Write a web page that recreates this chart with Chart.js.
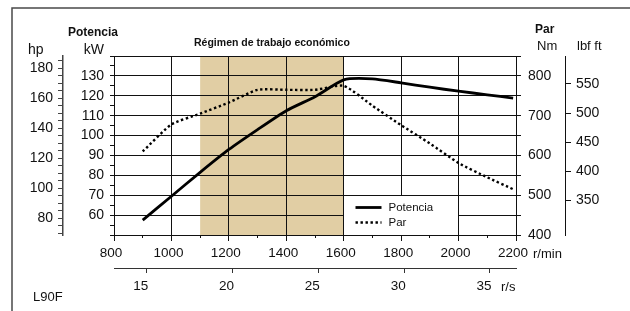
<!DOCTYPE html>
<html>
<head>
<meta charset="utf-8">
<title>L90F</title>
<script src="https://cdn.jsdelivr.net/npm/chart.js@4/dist/chart.umd.min.js"></script>
<style>
  html, body { margin: 0; padding: 0; background: #fff; }
</style>
</head>
<body>
<canvas id="myChart" width="630" height="311"></canvas>
<script>
// engine speed (r/min) and the two curves
const rpm = [900, 1000, 1100, 1200, 1300, 1400, 1500, 1600, 1700, 1800, 1900, 2000, 2100, 2190];
const potenciaKw = [57.5, 69.5, 81.5, 93, 103, 112.5, 119.5, 128, 128.5, 126.5, 124.3, 122.3, 120.5, 118.8];
const parNm = [610, 678, 705, 733, 765, 765, 765, 775, 725, 676, 630, 581, 545, 515];

const economico = [1100, 1600];

const rpmTicks = [800, 1000, 1200, 1400, 1600, 1800, 2000, 2200];
const kwTicks = [60, 70, 80, 90, 100, 110, 120, 130];
const hpTicks = [80, 100, 120, 140, 160, 180];
const nmTicks = [400, 500, 600, 700, 800];
const lbfTicks = [350, 400, 450, 500, 550];
const rsTicks = [15, 20, 25, 30, 35];

const family = '"Liberation Sans", Arial, Helvetica, sans-serif';
const ink = '#111';
Chart.defaults.font.family = family;
Chart.defaults.color = ink;

const align = (p) => Math.round(p - 0.5) + 0.5;

const extras = {
  id: 'extras',
  beforeDraw(chart) {
    // shaded economic range sits under the grid
    const {ctx, chartArea} = chart;
    const xs = chart.scales.x;
    const x1 = xs.getPixelForValue(economico[0]);
    const x2 = xs.getPixelForValue(economico[1]);
    ctx.save();
    ctx.fillStyle = 'rgb(225, 206, 164)';
    ctx.fillRect(x1, chartArea.top, x2 - x1, chartArea.bottom - chartArea.top);
    ctx.restore();
  },
  beforeDatasetsDraw(chart) {
    // legend box in the lower right, it hides the grid behind it
    const {ctx} = chart;
    const xs = chart.scales.x, ys = chart.scales.y;
    const l = align(xs.getPixelForValue(1600));
    const r = align(xs.getPixelForValue(2000));
    const t = align(ys.getPixelForValue(70));
    const b = align(ys.getPixelForValue(50));
    ctx.save();
    ctx.fillStyle = '#fff';
    ctx.fillRect(l, t, r - l, b - t);
    ctx.strokeStyle = ink;
    ctx.lineWidth = 1;
    ctx.strokeRect(l, t, r - l, b - t);
    chart.data.datasets.forEach((ds, i) => {
      const y = t + 12 + i * 15;
      ctx.beginPath();
      ctx.setLineDash(ds.borderDash || []);
      ctx.lineWidth = ds.borderWidth;
      ctx.strokeStyle = ds.borderColor;
      ctx.moveTo(l + 12, y);
      ctx.lineTo(l + 38, y);
      ctx.stroke();
      ctx.setLineDash([]);
      ctx.fillStyle = ink;
      ctx.font = '11.5px ' + family;
      ctx.textBaseline = 'middle';
      ctx.fillText(ds.label, l + 45, y);
    });
    ctx.restore();
  },
  afterDraw(chart) {
    const {ctx, chartArea} = chart;
    const xs = chart.scales.x;
    ctx.save();
    // short ticks between the labelled speeds
    ctx.strokeStyle = ink;
    ctx.lineWidth = 1;
    ctx.beginPath();
    for (let v = 900; v < 2200; v += 200) {
      const x = align(xs.getPixelForValue(v));
      ctx.moveTo(x, chartArea.bottom);
      ctx.lineTo(x, chartArea.bottom + 3);
    }
    ctx.stroke();

    const put = (txt, x, y, font, alignTo) => {
      ctx.font = font + ' ' + family;
      ctx.textAlign = alignTo || 'left';
      ctx.textBaseline = 'middle';
      ctx.fillStyle = ink;
      ctx.fillText(txt, x, y);
    };
    put('Potencia', 68, 33, 'bold 12px');
    put('hp', 28, 50, '14px');
    put('kW', 104, 50, '14px', 'right');
    put('Par', 535, 30, 'bold 12px');
    put('Nm', 537, 46, '13px');
    put('lbf ft', 577, 46, '13px');
    const mid = (xs.getPixelForValue(economico[0]) + xs.getPixelForValue(economico[1])) / 2;
    put('Régimen de trabajo económico', mid, 43, 'bold 10.5px', 'center');
    put('r/min', chartArea.right + 17, 254, '13px');
    put('r/s', 501, 287, '13px');
    put('L90F', 33, 297, '13px');

    // frame round the sheet (open to the right and bottom)
    ctx.strokeStyle = '#4a4a4a';
    ctx.lineWidth = 1.5;
    ctx.beginPath();
    ctx.moveTo(12, 311);
    ctx.lineTo(12, 8);
    ctx.lineTo(630, 8);
    ctx.stroke();
    ctx.restore();
  }
};

const onlyIn = (list) => (v) => (list.includes(v) ? String(v) : '');
const stepTicks = (from, to, step) => (s) => {
  s.ticks = [];
  for (let v = from; v <= to; v += step) s.ticks.push({value: v});
};

const config = {
  type: 'line',
  data: {
    datasets: [{
      label: 'Potencia',
      data: rpm.map((r, i) => ({x: r, y: potenciaKw[i]})),
      xAxisID: 'x',
      yAxisID: 'y',
      borderColor: '#000',
      borderWidth: 2.8,
      pointRadius: 0,
      tension: 0.2
    }, {
      label: 'Par',
      data: rpm.map((r, i) => ({x: r, y: parNm[i]})),
      xAxisID: 'x',
      yAxisID: 'y2',
      borderColor: '#000',
      borderWidth: 2.4,
      borderDash: [2.4, 2.6],
      pointRadius: 0,
      tension: 0.2
    }]
  },
  options: {
    responsive: false,
    animation: false,
    layout: {padding: {left: 12, right: 15, top: 56, bottom: 0}},
    plugins: {legend: {display: false}, tooltip: {enabled: false}},
    scales: {
      x: {
        type: 'linear', position: 'bottom', weight: 0,
        min: 800, max: 2200,
        afterBuildTicks: (s) => { s.ticks = rpmTicks.map((v) => ({value: v})); },
        ticks: {font: {size: 13.5}, padding: 4, labelOffset: -3, autoSkip: false, maxRotation: 0, callback: onlyIn(rpmTicks)},
        grid: {color: ink, tickLength: 6},
        border: {color: ink},
        afterFit: (s) => { s.height = 33; }
      },
      rs: {
        type: 'linear', position: 'bottom', weight: 1,
        min: 13.09, max: 36.52,
        afterBuildTicks: (s) => { s.ticks = rsTicks.map((v) => ({value: v})); },
        ticks: {font: {size: 13.5}, padding: 5, labelOffset: -6, maxRotation: 0, callback: onlyIn(rsTicks)},
        grid: {drawOnChartArea: false, color: '#333', tickLength: 5},
        border: {color: '#333'},
        afterFit: (s) => { s.height = 43; }
      },
      y: {
        type: 'linear', position: 'left', weight: 0,
        min: 50, max: 140,
        afterBuildTicks: stepTicks(50, 140, 5),
        ticks: {font: {size: 14}, padding: 6, autoSkip: false, callback: onlyIn(kwTicks)},
        grid: {
          color: (c) => (c.tick && c.tick.value % 10 === 0 ? ink : 'rgba(0,0,0,0)'),
          tickColor: ink,
          tickLength: 4
        },
        border: {color: ink},
        afterFit: (s) => { s.width = 51; }
      },
      hp: {
        type: 'linear', position: 'left', weight: 1,
        min: 68.67, max: 188,
        afterBuildTicks: stepTicks(70, 185, 5),
        ticks: {font: {size: 14}, padding: 5, autoSkip: false, callback: onlyIn(hpTicks)},
        grid: {drawOnChartArea: false, color: '#444', tickLength: 5},
        border: {color: '#444', width: 1.5},
        afterFit: (s) => { s.width = 51; }
      },
      y2: {
        type: 'linear', position: 'right', weight: 0,
        min: 400, max: 850,
        afterBuildTicks: stepTicks(400, 850, 50),
        ticks: {font: {size: 14}, padding: 7, autoSkip: false, callback: onlyIn(nmTicks)},
        grid: {drawOnChartArea: false, color: ink, tickLength: 5},
        border: {color: ink},
        afterFit: (s) => { s.width = 49; }
      },
      lbf: {
        type: 'linear', position: 'right', weight: 1,
        min: 291, max: 598,
        afterBuildTicks: (s) => { s.ticks = lbfTicks.map((v) => ({value: v})); },
        ticks: {font: {size: 14}, padding: 5, autoSkip: false, callback: onlyIn(lbfTicks)},
        grid: {drawOnChartArea: false, color: ink, tickLength: 6},
        border: {color: ink},
        afterFit: (s) => { s.width = 50; }
      }
    }
  },
  plugins: [extras]
};

const myChart = new Chart(document.getElementById('myChart'), config);
</script>
</body>
</html>
